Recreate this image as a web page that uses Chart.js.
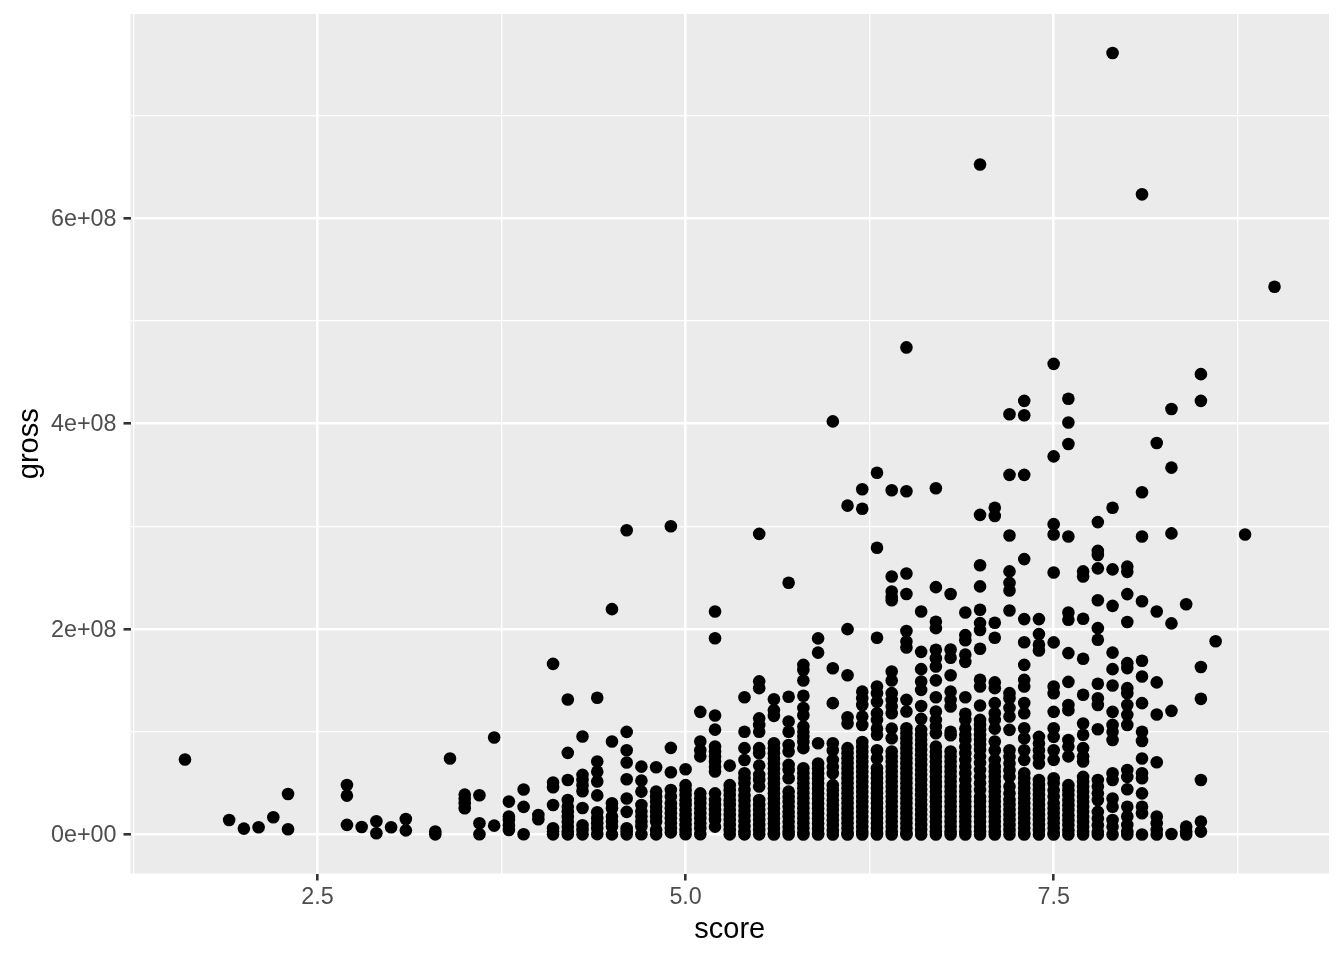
<!DOCTYPE html>
<html>
<head>
<meta charset="utf-8">
<title>score vs gross</title>
<script src="https://cdn.jsdelivr.net/npm/chart.js@4"></script>
<style>html,body{margin:0;padding:0;background:#fff}canvas{display:block}</style>
</head>
<body>
<canvas id="c" width="1344" height="960"></canvas>
<script>
const xTickValues = [1.25,2.5,3.75,5,6.25,7.5,8.75];
const xTickLabels = ["","2.5","","5.0","","7.5",""];
const yTickValues = [0,1e8,2e8,3e8,4e8,5e8,6e8,7e8];
const yTickLabels = ["0e+00","","2e+08","","4e+08","","6e+08",""];
const xMajorTicks = [2.5,5,7.5];
const yMajorTicks = [0,2e8,4e8,6e8];
const xTitle = "score";
const yTitle = "gross";
const scores = [1.6,1.9,2.0,2.1,2.2,2.3,2.7,2.8,2.9,3.0,3.1,3.3,3.4,3.5,3.6,3.7,3.8,3.9,4.0,4.1,4.2,4.3,4.4,4.5,4.6,4.7,4.8,4.9,5.0,5.1,5.2,5.3,5.4,5.5,5.6,5.7,5.8,5.9,6.0,6.1,6.2,6.3,6.4,6.5,6.6,6.7,6.8,6.9,7.0,7.1,7.2,7.3,7.4,7.5,7.6,7.7,7.8,7.9,8.0,8.1,8.2,8.3,8.4,8.5,8.6,8.8,9.0];
// gross in millions, one list per score
const grossMillions = [
[72.9],
[14],
[5.7],
[7],
[16.7],
[39.4,5],
[48.2,37.8,9.3],
[7.3],
[12.8,1.1],
[7],
[15,4],
[2.8,0.1],
[73.9],
[38.8,34.9,30.4,25.5],
[38.1,10.9,0.2],
[94.3,8.6],
[32,17.4,14,9,4.4],
[43.7,26.8,0.2],
[19,14.8],
[166,50.5,46,28.7,6,2.8,0.1],
[131.3,79.4,53,33.6,27,22,17,12.5,7.6,2.8,0.1],
[95.3,58,53,48,42,25.8,9,4.4,0.1],
[133,71,61,51.5,38,21.6,15.8,11,6,0.3],
[219.3,90.4,30.4,25.5,17.4,12.6,7.8,0.1],
[296,99.8,82,70,53.7,35,22,6,3,0.1],
[66,52.4,41.7,28.7,22.5,17.6,12.7,8,0.2],
[65.4,41.7,37,32,27,22.3,17.4,12.6,4.6,0.1],
[300,84.3,60.6,43.3,37,30.4,25.5,20.7,15.8,11,6,2],
[63.5,48,43,38.3,33.4,28.6,23.7,18.9,14,9.2,4.3,0.2],
[119.3,90.4,82,76,40,35.1,30.3,25.4,20.6,15.7,10.8,6,0.2],
[217,191,115.8,102,85.6,80.7,75.8,71,66,61.2,40,33.6,28.7,23.8,19,14.1,7.6],
[67,48,43,38.3,33.4,28.6,23.7,18.9,14,9.2,4.3,0.1],
[133.6,100,84,72.5,59.6,54.7,49.8,43.3,38,33,28,23,18,13,8,3,0.1],
[292.5,149,142.4,113,106.6,100,84,79,67,58,53,46.6,33.6,28.7,23.8,19,14,9.2,4.3,0.1],
[131.6,121,115.4,88.8,84,79,74,69,64.2,59.3,54.4,49.6,44.7,39.8,35,30.1,25.2,20.4,15.5,10.6,5.8,0.9,0],
[245,134,110,100,87,80.7,67.7,62.8,54.7,41.7,36.8,32,27.1,22.2,17.4,12.5,7.6,2.8,0],
[165,160,149.8,135,123,116,105,100,95,90,84,64.4,59.6,54.7,49.9,45,40.1,35.3,30.4,25.5,20.7,15.8,10.9,6.1,1.2,0],
[190.8,177,88.8,69,64.2,59.3,54.4,49.6,44.7,39.8,35,30.1,25.2,20.4,15.5,10.6,5.8,0.9,0],
[402,161.8,127.8,88.8,82,72.5,66,59.6,48,43.1,38.3,33.4,28.5,23.7,18.8,13.9,9.1,4.2,0],
[320,199.8,155,114,108,84,79,74.2,69.3,64.4,59.6,54.7,49.8,45,40.1,35.2,30.4,25.5,20.6,15.8,10.9,6,1.2,0],
[336,317,139,132.6,126,114.7,106.6,90,85.1,80.3,75.4,70.5,65.7,60.8,55.9,51.1,46.2,41.3,36.5,31.6,26.7,21.9,17,12.1,7.3,2.4,0],
[352,279,191.4,144,137.5,129,118,111.5,103,97,82,74,64.4,59.6,54.7,49.9,45,40.1,35.3,30.4,25.5,20.7,15.8,10.9,6.1,1.2,0],
[335,251,236.5,231,228,158.6,149.8,137.5,131,124.5,118,103,93.7,80.7,75.8,71,66.1,61.2,56.4,51.5,46.6,41.8,36.9,32,27.2,22.3,17.4,12.6,7.7,2.8,0],
[474,334,254,234,198,187.8,182,131,119.6,103.4,98.5,93.7,88.8,83.9,79.1,74.2,69.3,64.5,59.6,54.7,49.9,45,40.1,35.3,30.4,25.5,20.7,15.8,10.9,6.1,1.2,0],
[217,177.7,160.9,148.9,140.7,125,112.5,101.8,96.9,92.1,87.2,82.3,77.5,72.6,67.7,62.9,58,53.1,48.3,43.4,38.5,33.7,28.8,23.9,19.1,14.2,9.3,4.5,0],
[337,240.7,207,200.8,179.7,171.5,163.5,150,133.6,119.6,111.5,105,98.5,85.5,80.6,75.8,70.9,66,61.2,56.3,51.4,46.6,41.7,36.8,32,27.1,22.2,17.4,12.5,7.6,2.8,0],
[234,180,172,155,139,131,124.5,100,96.5,80.7,75.9,71,66.1,61.3,56.4,51.5,46.7,41.8,36.9,32.1,27.2,22.3,17.5,12.6,7.7,2.9,0],
[216,194,189,175,168,133.6,117.4,111.5,103,97,92,85,79,72.6,66,59.6,53,46.6,41.8,36.9,32.1,27.2,22.3,17.5,12.6,7.7,2.9,0],
[652,311,262,241.4,218.7,205.7,199,180.7,150.5,144,125.5,111.5,106.6,101.8,96.9,92,87.2,82.3,76,69.5,62.8,56.3,49.8,43.3,36.8,32,27.1,22.2,17.4,12.5,7.6,2.8,0],
[318,310,206,191.4,148,142.4,127.8,118,111.5,103,90.4,82,72.6,66.2,61.3,56.5,51.6,46.7,41.9,37,32.1,27.3,22.4,17.5,12.7,7.8,2.9,0],
[409,350,291,256,244.8,237.5,218,137.5,132.6,123,114.8,101.8,82,75.5,69,62.5,56,46.6,40,33.6,28.8,23.9,19,14.2,9.3,4.4,0],
[422,408,350,268,209.6,187,165,150.4,144,128,118,103.4,93.7,82,72.6,59.6,54.7,49.9,45,40.1,35.3,30.4,25.5,20.7,15.8,10.9,6.1,1.2,0],
[209.6,195,184.6,179,95,88.5,82,75.5,69,53,48.1,43.3,38.4,33.5,28.7,23.8,18.9,14.1,9.2,4.3,0],
[458,368,302,292,255,186.9,144,137.5,119.3,103.4,95,82,72.6,54.7,49.8,43,36.9,30.4,25.5,20.7,15.8,10.9,6.1,1.2,0],
[424,401,380,290,216,209,176.5,148.5,126,121,92,85.5,76,48,43.1,38.3,33.4,28.5,23.7,18.8,13.9,9.1,4.2,0],
[256,251,210,171,135.9,108,97,84,76,71,56,51.1,46.3,41.4,36.5,31.7,26.8,21.9,17.1,12.2,7.3,2.5,0],
[304,276,272,259,228,200.8,189.5,146.6,132.6,126,102.4,53,46.6,40,33.6,22,15.5,9,2.6,0],
[760.5,318,258,222.5,177,160.9,145,119.3,106.6,100,92,59.6,53,35,27,14,7.5,0],
[260.7,255.6,233.9,206.7,166.7,161.9,142.4,137.5,126,116.4,106.6,62.8,56,44,27,17.4,9.3,2.8,0],
[623,333,290,227,169,153.7,127.8,100,91,73.9,59.6,54.7,40,27,20.6,0],
[381,217,148,116.8,70.3,17.4,11,4.5,0],
[414,357,293,205.4,120.3,0.5],
[224,7.6,2.8,0],
[448,422,163,132,53,12.5,2.8],
[188],
[292],
[533]
];

const points = [];
scores.forEach((s, i) => grossMillions[i].forEach(v => points.push({x: s, y: v * 1e6})));

const panelBackground = {
  id: 'panelBackground',
  beforeDraw(chart) {
    const a = chart.chartArea, ctx = chart.ctx;
    ctx.save();
    ctx.fillStyle = '#EBEBEB';
    ctx.fillRect(a.left, a.top, a.right - a.left, a.bottom - a.top);
    ctx.restore();
  }
};

const FONT = '"Liberation Sans", Arial, Helvetica, sans-serif';
new Chart(document.getElementById('c'), {
  type: 'scatter',
  data: { datasets: [{ data: points, backgroundColor: '#000', borderWidth: 0, pointRadius: 6.3, pointHoverRadius: 6.3 }] },
  plugins: [panelBackground],
  options: {
    responsive: false, animation: false, devicePixelRatio: 1,
    layout: { padding: { top: 14, right: 15, bottom: 0, left: 0 } },
    plugins: { legend: { display: false }, tooltip: { enabled: false } },
    scales: {
      x: {
        type: 'linear', min: 1.23, max: 9.37,
        afterBuildTicks(s) { s.ticks = xTickValues.map(v => ({ value: v })); },
        afterFit(s) { s.height = 86.5; s.paddingLeft = 0; s.paddingRight = 0; },
        border: { display: false },
        grid: {
          color: '#fff', drawTicks: true, tickLength: 7,
          lineWidth: c => xMajorTicks.includes(c.tick.value) ? 2.6 : 1.3,
          tickWidth: 2.6,
          tickColor: c => xMajorTicks.includes(c.tick.value) ? '#333333' : 'rgba(0,0,0,0)'
        },
        ticks: {
          autoSkip: false, maxRotation: 0, minRotation: 0, padding: 3.5, color: '#4D4D4D',
          font: { family: FONT, size: 23.3 },
          callback: v => xTickLabels[xTickValues.indexOf(v)]
        },
        title: { display: true, text: xTitle, color: '#000', font: { family: FONT, size: 29 }, padding: { top: 0, bottom: 12.6 } }
      },
      y: {
        type: 'linear', min: -38e6, max: 798.5e6,
        afterBuildTicks(s) { s.ticks = yTickValues.map(v => ({ value: v })); },
        afterFit(s) { s.width = 130.5; s.paddingTop = 0; s.paddingBottom = 0; },
        border: { display: false },
        grid: {
          color: '#fff', drawTicks: true, tickLength: 7,
          lineWidth: c => yMajorTicks.includes(c.tick.value) ? 2.6 : 1.3,
          tickWidth: 2.6,
          tickColor: c => yMajorTicks.includes(c.tick.value) ? '#333333' : 'rgba(0,0,0,0)'
        },
        ticks: {
          autoSkip: false, padding: 7, labelOffset: 1.5, color: '#4D4D4D',
          font: { family: FONT, size: 23.3 },
          callback: v => yTickLabels[yTickValues.indexOf(v)]
        },
        title: { display: true, text: yTitle, color: '#000', font: { family: FONT, size: 29 }, padding: { top: 12.6, bottom: 0 } }
      }
    }
  }
});
</script>
</body>
</html>
